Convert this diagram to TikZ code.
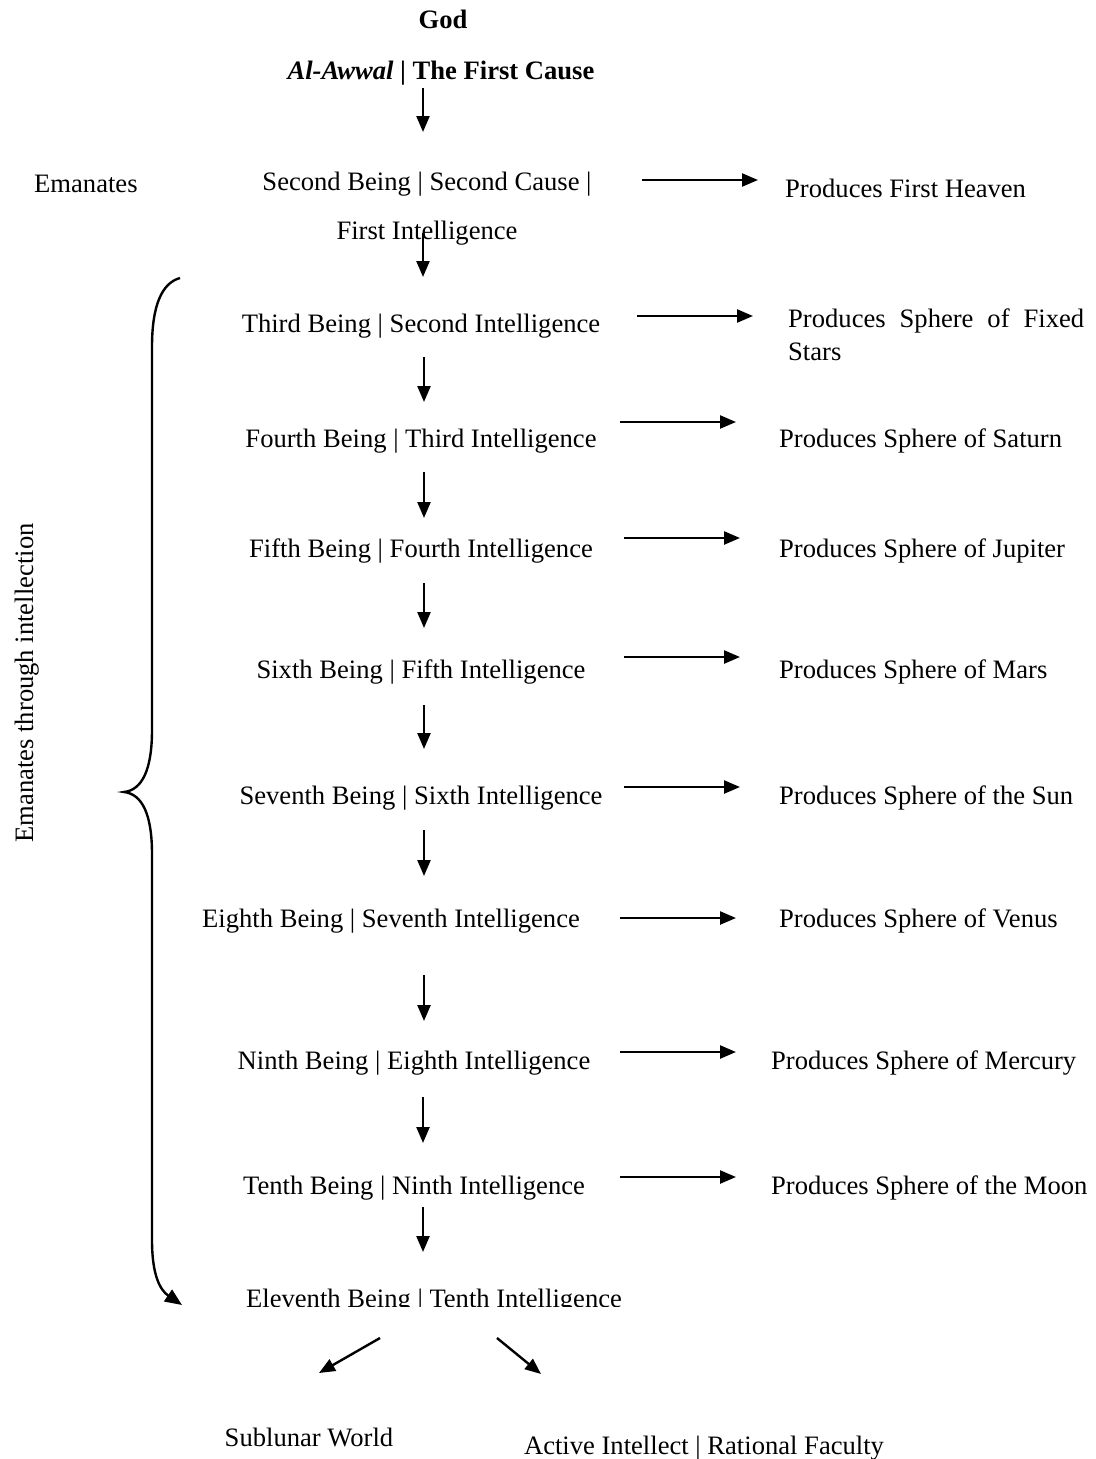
\documentclass[tikz,border=0pt]{standalone}
\usepackage{fontspec}
\setmainfont{Liberation Serif}
\usetikzlibrary{arrows.meta}
\begin{document}
\begin{tikzpicture}[x=1pt,y=-1pt,
  txt/.style={inner sep=0pt,anchor=base,font=\fontsize{26.6}{30}\selectfont},
  ltxt/.style={txt,anchor=base west},
  arr/.style={line width=2.4pt,-{Triangle[length=16pt,width=13pt]}},
  brace/.style={line width=2.4pt}]
\useasboundingbox (0,0) rectangle (1095,1459);
% top
\node[txt,font=\fontsize{26.6}{30}\selectfont\bfseries] (god) at (443,28) {God};
\node[txt,font=\fontsize{26.6}{30}\selectfont\bfseries] (cause) at (441,79) {\textit{Al-Awwal} | The First Cause};
\node[ltxt] (eman) at (34,192) {Emanates};
\node[txt] (b2a) at (427,190) {Second Being | Second Cause |};
\node[txt] (b2b) at (427,239) {First Intelligence};
\node[ltxt] (p1) at (785,197) {Produces First Heaven};
% chain
\node[txt] (b3) at (421,332) {Third Being | Second Intelligence};
\node[ltxt,text width=296pt,align=justify,anchor=north west,
      font=\fontsize{26.6}{33}\selectfont] (p2) at (788,309) {Produces Sphere of Fixed Stars};
\node[txt] (b4) at (421,447) {Fourth Being | Third Intelligence};
\node[ltxt] (p3) at (779,447) {Produces Sphere of Saturn};
\node[txt] (b5) at (421,557) {Fifth Being | Fourth Intelligence};
\node[ltxt] (p4) at (779,557) {Produces Sphere of Jupiter};
\node[txt] (b6) at (421,678) {Sixth Being | Fifth Intelligence};
\node[ltxt] (p5) at (779,678) {Produces Sphere of Mars};
\node[txt] (b7) at (421,804) {Seventh Being | Sixth Intelligence};
\node[ltxt] (p6) at (779,804) {Produces Sphere of the Sun};
\node[txt] (b8) at (391,927) {Eighth Being | Seventh Intelligence};
\node[ltxt] (p7) at (779,927) {Produces Sphere of Venus};
\node[txt] (b9) at (414,1069) {Ninth Being | Eighth Intelligence};
\node[ltxt] (p8) at (771,1069) {Produces Sphere of Mercury};
\node[txt] (b10) at (414,1194) {Tenth Being | Ninth Intelligence};
\node[ltxt] (p9) at (771,1194) {Produces Sphere of the Moon};
\begin{scope}
\clip (0,1250) rectangle (1095,1306);
\node[txt] (b11) at (434,1307) {Eleventh Being | Tenth Intelligence};
\end{scope}
\node[txt] (sub) at (309,1446) {Sublunar World};
\node[txt] (act) at (704,1454) {Active Intellect | Rational Faculty};
\node[txt,rotate=90] (ethr) at (33,683) {Emanates through intellection};
% vertical arrow coordinates
\coordinate (v0a) at (423,88);   \coordinate (v0b) at (423,132);
\coordinate (v1a) at (423,233);  \coordinate (v1b) at (423,277);
\coordinate (v2a) at (424,357);  \coordinate (v2b) at (424,402);
\coordinate (v3a) at (424,472);  \coordinate (v3b) at (424,518);
\coordinate (v4a) at (424,583);  \coordinate (v4b) at (424,628);
\coordinate (v5a) at (424,705);  \coordinate (v5b) at (424,749);
\coordinate (v6a) at (424,830);  \coordinate (v6b) at (424,876);
\coordinate (v7a) at (424,975);  \coordinate (v7b) at (424,1021);
\coordinate (v8a) at (423,1097); \coordinate (v8b) at (423,1143);
\coordinate (v9a) at (423,1207); \coordinate (v9b) at (423,1252);
\foreach \i in {0,...,9} {\draw[arr] (v\i a) -- (v\i b);}
% horizontal arrows
\coordinate (h1a) at (642,180);  \coordinate (h1b) at (758,180);
\coordinate (h2a) at (637,316);  \coordinate (h2b) at (753,316);
\coordinate (h3a) at (620,422);  \coordinate (h3b) at (736,422);
\coordinate (h4a) at (624,538);  \coordinate (h4b) at (740,538);
\coordinate (h5a) at (624,657);  \coordinate (h5b) at (740,657);
\coordinate (h6a) at (624,787);  \coordinate (h6b) at (740,787);
\coordinate (h7a) at (620,918);  \coordinate (h7b) at (736,918);
\coordinate (h8a) at (620,1052); \coordinate (h8b) at (736,1052);
\coordinate (h9a) at (620,1177); \coordinate (h9b) at (736,1177);
\foreach \i in {1,...,9} {\draw[arr] (h\i a) -- (h\i b);}
% diagonal arrows
\coordinate (d1a) at (380,1338); \coordinate (d1b) at (319,1373);
\coordinate (d2a) at (497,1338); \coordinate (d2b) at (541,1374);
\draw[arr] (d1a) -- (d1b);
\draw[arr] (d2a) -- (d2b);
% brace
\coordinate (brtop) at (180,278);
\coordinate (brcusp) at (124,792);
\coordinate (brtip) at (182,1305);
\draw[brace,-{Triangle[length=17pt,width=14pt]}] (brtop) .. controls (162,283) and (152,305) .. (152,347)
  -- (152,730) .. controls (152,770) and (142,790) .. (brcusp)
  .. controls (142,794) and (152,814) .. (152,854)
  -- (152,1240) .. controls (152,1275) and (160,1290) .. (brtip);
\end{tikzpicture}
\end{document}
